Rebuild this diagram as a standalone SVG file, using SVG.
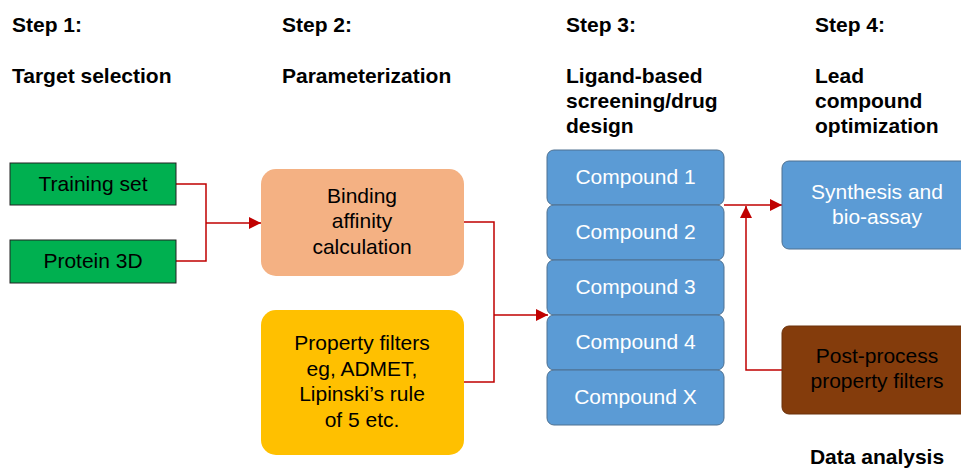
<svg xmlns="http://www.w3.org/2000/svg" width="961" height="468" viewBox="0 0 961 468">
<defs>
<style>
text{font-family:"Liberation Sans",Arial,sans-serif;font-size:21px;fill:#000}
.h{font-weight:bold}
.c{text-anchor:middle}
.w{fill:#fff}
.green{fill:#00B050;stroke:#222;stroke-width:1}
.orange{fill:#F4B183}
.yellow{fill:#FFC000}
.blue{fill:#5B9BD5;stroke:#4F7191;stroke-width:1}
.brown{fill:#843C0C;stroke:#6a300a;stroke-width:1}
.ln{fill:none;stroke:#C00000;stroke-width:1.5}
</style>
<marker id="ah" markerUnits="userSpaceOnUse" markerWidth="13" markerHeight="12" refX="12" refY="6" orient="auto">
<path d="M0,0 L12,6 L0,12 z" fill="#C00000"/>
</marker>
</defs>
<rect width="961" height="468" fill="#fff"/>
<g id="headers">
<text class="h" x="12" y="32">Step 1:</text>
<text class="h" x="12" y="83">Target selection</text>
<text class="h" x="282" y="32">Step 2:</text>
<text class="h" x="282" y="83">Parameterization</text>
<text class="h" x="566" y="32">Step 3:</text>
<text class="h" x="566" y="83">Ligand-based</text>
<text class="h" x="566" y="108">screening/drug</text>
<text class="h" x="566" y="133">design</text>
<text class="h" x="815" y="32">Step 4:</text>
<text class="h" x="815" y="83">Lead</text>
<text class="h" x="815" y="108">compound</text>
<text class="h" x="815" y="133">optimization</text>
<text class="h c" x="877" y="464">Data analysis</text>
</g>
<g id="connectors">
<path class="ln" d="M176,184 H206 V261 H176"/>
<path class="ln" d="M206,223 H261" marker-end="url(#ah)"/>
<path class="ln" d="M464,222 H494 V382 H464"/>
<path class="ln" d="M494,315 H548" marker-end="url(#ah)"/>
<path class="ln" d="M724,205 H782" marker-end="url(#ah)"/>
<path class="ln" d="M782,370 H746 V206" marker-end="url(#ah)"/>
</g>
<g id="training-set">
<rect class="green" x="10" y="163" width="166" height="42"/>
<text class="c" x="93" y="191">Training set</text>
</g>
<g id="protein-3d">
<rect class="green" x="10" y="240" width="166" height="43"/>
<text class="c" x="93" y="268">Protein 3D</text>
</g>
<g id="binding">
<rect class="orange" x="261" y="169" width="203" height="107" rx="15"/>
<text class="c" x="362" y="203">Binding</text>
<text class="c" x="362" y="228">affinity</text>
<text class="c" x="362" y="254">calculation</text>
</g>
<g id="property-filters">
<rect class="yellow" x="261" y="310" width="203" height="145" rx="15"/>
<text class="c" x="362" y="350">Property filters</text>
<text class="c" x="362" y="375.5">eg, ADMET,</text>
<text class="c" x="362" y="401">Lipinski’s rule</text>
<text class="c" x="362" y="426.5">of 5 etc.</text>
</g>
<g id="compound-1">
<rect class="blue" x="547" y="150" width="177" height="55" rx="7"/>
<text class="c w" x="635.5" y="184">Compound 1</text>
</g>
<g id="compound-2">
<rect class="blue" x="547" y="205" width="177" height="55" rx="7"/>
<text class="c w" x="635.5" y="239">Compound 2</text>
</g>
<g id="compound-3">
<rect class="blue" x="547" y="260" width="177" height="55" rx="7"/>
<text class="c w" x="635.5" y="294">Compound 3</text>
</g>
<g id="compound-4">
<rect class="blue" x="547" y="315" width="177" height="55" rx="7"/>
<text class="c w" x="635.5" y="349">Compound 4</text>
</g>
<g id="compound-x">
<rect class="blue" x="547" y="370" width="177" height="55" rx="7"/>
<text class="c w" x="635.5" y="404">Compound X</text>
</g>
<g id="synthesis">
<rect class="blue" x="782" y="161" width="192" height="88" rx="7"/>
<text class="c w" x="877" y="199">Synthesis and</text>
<text class="c w" x="877" y="224">bio-assay</text>
</g>
<g id="post-process">
<rect class="brown" x="782" y="326" width="192" height="88" rx="7"/>
<text class="c" x="877" y="363">Post-process</text>
<text class="c" x="877" y="388">property filters</text>
</g>
</svg>
